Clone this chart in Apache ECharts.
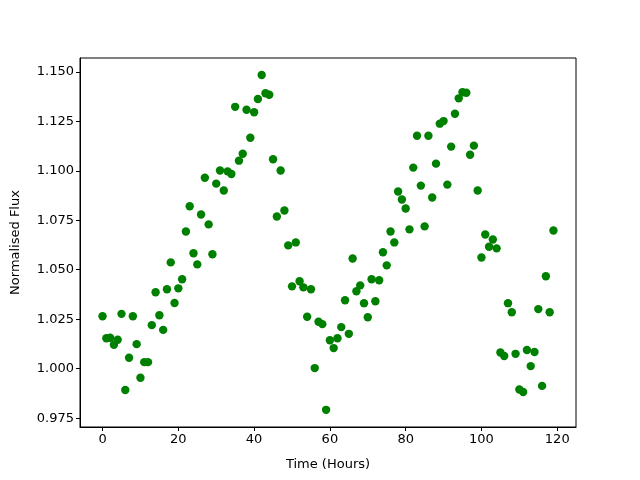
<!DOCTYPE html>
<html>
<head>
<meta charset="utf-8">
<script src="https://cdn.jsdelivr.net/npm/echarts@6/dist/echarts.min.js"></script>
<style>
  html, body { margin: 0; padding: 0; background: #fff; }
  #chart { width: 640px; height: 480px; }
</style>
</head>
<body>
<div id="chart"></div>
<script>
// time in hours, one reading per hour
const hours = Array.from({ length: 120 }, (_, i) => i)
const flux = [
  1.0265, 1.0154, 1.0156, 1.0121, 1.0146, 1.0277, 0.9892, 1.0055, 1.0265, 1.0124,
  0.9954, 1.0033, 1.0033, 1.0220, 1.0386, 1.0270, 1.0196, 1.0401, 1.0537, 1.0332,
  1.0406, 1.0452, 1.0693, 1.0821, 1.0583, 1.0527, 1.0779, 1.0965, 1.0729, 1.0578,
  1.0935, 1.1001, 1.0900, 1.0997, 1.0984, 1.1323, 1.1051, 1.1086, 1.1308, 1.1167,
  1.1296, 1.1363, 1.1484, 1.1392, 1.1384, 1.1058, 1.0769, 1.1001, 1.0799, 1.0623,
  1.0416, 1.0638, 1.0442, 1.0411, 1.0262, 1.0401, 1.0003, 1.0237, 1.0225, 0.9792,
  1.0144, 1.0104, 1.0154, 1.0210, 1.0346, 1.0176, 1.0557, 1.0391, 1.0421, 1.0331,
  1.0260, 1.0452, 1.0341, 1.0447, 1.0588, 1.0522, 1.0693, 1.0638, 1.0895, 1.0855,
  1.0809, 1.0704, 1.1016, 1.1177, 1.0925, 1.0719, 1.1177, 1.0865, 1.1036, 1.1238,
  1.1251, 1.0930, 1.1122, 1.1288, 1.1366, 1.1397, 1.1394, 1.1081, 1.1127, 1.0900,
  1.0562, 1.0678, 1.0616, 1.0653, 1.0608, 1.0082, 1.0064, 1.0331, 1.0285, 1.0075,
  0.9895, 0.9882, 1.0094, 1.0013, 1.0084, 1.0301, 0.9913, 1.0467, 1.0285, 1.0698
]
const xTicks = [0, 20, 40, 60, 80, 100, 120]
const yTicks = [0.975, 1.0, 1.025, 1.05, 1.075, 1.1, 1.125, 1.15]

const font = 'DejaVu Sans'
const ink = '#000'

const chart = echarts.init(document.getElementById('chart'), null, { renderer: 'canvas' })
chart.setOption({
  animation: false,
  backgroundColor: '#fff',
  grid: {
    left: 80, right: 64, top: 58, bottom: 53,
    show: true, borderColor: ink, borderWidth: 1, backgroundColor: 'transparent'
  },
  xAxis: {
    type: 'value',
    min: -5.95,
    max: 124.95,
    name: 'Time (Hours)',
    nameLocation: 'middle',
    nameGap: 31,
    nameTextStyle: { color: ink, fontFamily: font, fontSize: 13 },
    axisLine: { show: true, onZero: false, lineStyle: { color: ink, width: 1 } },
    axisTick: { show: true, length: 4, lineStyle: { color: ink }, customValues: xTicks },
    axisLabel: { color: ink, fontFamily: font, fontSize: 13, margin: 6, customValues: xTicks },
    splitLine: { show: false }
  },
  yAxis: {
    type: 'value',
    min: 0.97053,
    max: 1.15698,
    name: 'Normalised Flux',
    nameLocation: 'middle',
    nameGap: 58,
    nameTextStyle: { color: ink, fontFamily: font, fontSize: 13 },
    axisLine: { show: true, onZero: false, lineStyle: { color: ink, width: 1 } },
    axisTick: { show: true, length: 4, lineStyle: { color: ink }, customValues: yTicks },
    axisLabel: {
      color: ink, fontFamily: font, fontSize: 13, margin: 6, customValues: yTicks,
      formatter: (v) => v.toFixed(3)
    },
    splitLine: { show: false }
  },
  series: [
    {
      type: 'scatter',
      data: hours.map((h, i) => [h, flux[i]]),
      symbol: 'circle',
      symbolSize: 8.4,
      itemStyle: { color: '#008000', opacity: 1 }
    }
  ]
})
</script>
</body>
</html>
